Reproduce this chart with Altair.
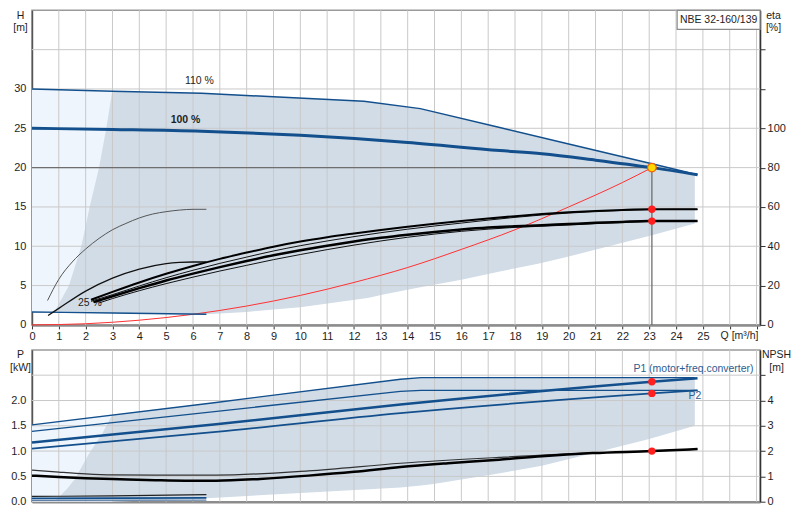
import altair as alt
import pandas as pd

MODEL = "NBE 32-160/139"

# ---------------- top panel: Q [m3/h] vs H [m] ----------------
q110 = [0, 3, 6.32, 9, 12.37, 14.47, 17.43, 20, 23.1, 24.8]
h110 = [30, 29.7, 29.45, 29.0, 28.45, 27.5, 25.1, 23.0, 20.5, 19.1]
q100 = [0, 3, 6.32, 10, 14, 17.43, 19, 21, 23.1, 24.8]
h100 = [25, 24.85, 24.63, 24.1, 23.2, 22.17, 21.76, 20.95, 20.0, 19.1]
q25 = [0, 3, 6.5]
h25 = [1.64, 1.52, 1.35]
qsys = [0, 2, 4, 6, 8, 10, 12, 14, 16, 18, 20, 22, 23.1]
hsys = [0, 0.15, 0.6, 1.35, 2.4, 3.75, 5.4, 7.3, 9.6, 12.1, 15.0, 18.1, 20.0]
duty_q = [23.1]
duty_h = [20.0]

light_q = [0, 3.0]
light_top = [30, 29.7]
light_bot = [1.64, 1.51]
range_q = [0.7, 0.89, 1.38, 1.84, 2.15, 2.5, 2.77, 2.99, 4, 6.32, 6.5, 8, 9, 10,
           12.37, 12.6, 13, 14.47, 16, 17.43, 18.9, 20, 23.1, 24.7]
range_top = [1.6, 2, 5, 10, 15, 20, 25, 29.7, 29.6, 29.45, 29.43, 29.2, 29.0, 28.85,
             28.45, 28.35, 28.15, 27.5, 26.26, 25.1, 23.9, 23.0, 20.5, 19.2]
range_bot = [1.6, 1.6, 1.58, 1.56, 1.54, 1.53, 1.52, 1.51, 1.46, 1.36, 1.35, 1.65, 1.95, 2.25,
             3.35, 3.5, 3.8, 4.8, 5.75, 6.8, 7.8, 8.7, 11.4, 12.9]

ann_q = [6.24, 2.16]
ann_h = [31.0, 2.75]
ann_txt = ["110 %", "25 %"]
ann_bold_q = [5.72]
ann_bold_h = [26.0]
ann_bold_txt = ["100 %"]

# efficiency curves (eta %)
e1_q = [0.58, 1.0, 1.5, 2, 2.5, 3, 3.5, 4, 4.5, 5, 5.5, 6, 6.5]
e1 = [12.4, 23.2, 32, 38.6, 44, 48.4, 51.6, 54.4, 56.4, 57.6, 58.4, 58.8, 58.8]
e2_q = [0.6, 1, 2, 3, 4, 5, 5.5, 6, 6.5]
e2 = [4.8, 8.4, 17.2, 23.8, 28.4, 31.2, 31.8, 32, 32]
b1_q = [2.2, 3, 4, 5, 6, 7, 8, 9, 10, 11, 12, 13, 14, 15, 16, 17, 18, 19, 20, 21, 22, 23, 24, 24.8]
b1 = [12.8, 16.8, 21.6, 26.0, 30.0, 33.6, 36.8, 39.8, 42.4, 44.6, 46.5, 48.3, 49.9, 51.4,
      52.8, 54.1, 55.3, 56.4, 57.3, 58.0, 58.5, 58.8, 58.8, 58.8]
b2_q = [2.2, 3, 4, 5, 6, 7, 8, 9, 10, 11, 12, 13, 14, 15, 16, 17, 18, 19, 20, 21, 22, 23, 24, 24.8]
b2 = [12.0, 15.4, 19.8, 24.0, 27.8, 31.3, 34.5, 37.6, 40.3, 42.7, 44.9, 46.9, 48.7, 50.3,
      51.8, 53.3, 54.7, 55.9, 56.9, 57.6, 58.2, 58.6, 58.8, 58.8]
b3_q = [2.3, 3, 4, 5, 6, 7, 8, 9, 10, 11, 12, 13, 14, 15, 16, 17, 18, 19, 20, 21, 22, 23, 24, 24.8]
b3 = [11.6, 14.6, 18.7, 22.6, 26.1, 29.4, 32.5, 35.4, 38.0, 40.3, 42.4, 44.3, 45.9, 47.3,
      48.5, 49.5, 50.2, 50.7, 51.3, 51.9, 52.4, 52.8, 52.8, 52.8]
b4_q = [2.5, 3, 4, 5, 6, 7, 8, 9, 10, 11, 12, 13, 14, 15, 16, 17, 18, 19, 20, 21, 22, 23, 24, 24.8]
b4 = [11.2, 13.4, 17.4, 21.0, 24.3, 27.4, 30.3, 33.2, 35.8, 38.3, 40.6, 42.7, 44.6, 46.2,
      47.6, 48.7, 49.6, 50.2, 50.8, 51.5, 52.1, 52.6, 52.8, 52.8]
eta_dot_q = [23.1, 23.1]
eta_dot = [58.8, 52.8]

# ---------------- bottom panel: P [kW] and NPSH [m] ----------------
p110a_q = [0, 6.86, 13.73, 14.5, 24.7]
p110a = [1.52, 1.96, 2.42, 2.45, 2.45]
p110b_q = [0, 13.73, 14.5, 24.8]
p110b = [1.39, 2.18, 2.2, 2.2]
p100a_q = [0, 6.86, 13.73, 23.1, 24.8]
p100a = [1.17, 1.53, 1.92, 2.37, 2.44]
p100b_q = [0, 6.86, 13.73, 23.1, 24.8]
p100b = [1.05, 1.38, 1.75, 2.14, 2.2]
p25a_q = [0, 6.5]
p25a = [0.065, 0.075]
p25b_q = [0, 6.5]
p25b = [0.025, 0.03]
p_dot_q = [23.1, 23.1]
p_dot = [2.37, 2.14]

plight_q = [0, 3.0]
plight_top = [1.52, 1.72]
plight_bot = [0, 0]
prange_q = [0.8, 1.0, 1.3, 1.6, 2.12, 2.62, 2.99, 4.6, 6.86, 10, 13.73,
            14.5, 14.96, 17.1, 19.0, 21.0, 23.0, 24.7]
prange_top = [0, 0.09, 0.25, 0.45, 0.94, 1.35, 1.72, 1.82, 1.96, 2.18, 2.42,
              2.45, 2.45, 2.45, 2.45, 2.45, 2.45, 2.45]
prange_bot = [0, 0, 0, 0, 0, 0, 0, 0.03, 0.08, 0.17, 0.28,
              0.32, 0.35, 0.53, 0.71, 0.97, 1.24, 1.5]

p_lab_q = [24.65, 24.7]
p_lab_p = [2.62, 2.09]
p_lab_txt = ["P1 (motor+freq.converter)", "P2"]

n1_q = [0, 1, 2, 3, 4.6, 6.86, 10.3, 13.73, 17.4, 20.9, 23.1, 24.8]
n1 = [1.25, 1.17, 1.1, 1.06, 1.05, 1.05, 1.22, 1.52, 1.75, 1.93, 2.0, 2.08]
n2_q = [0, 1, 2, 3, 4.6, 5.7, 6.86, 8.5, 10.3, 12, 13.73, 15.5, 17.4, 19, 20.9, 23.1, 24.8]
n2 = [1.03, 0.98, 0.93, 0.9, 0.85, 0.83, 0.83, 0.9, 1.03, 1.18, 1.37, 1.52, 1.66, 1.8, 1.92, 2.0, 2.08]
n25_q = [0, 3, 6.5]
n25 = [0.21, 0.23, 0.28]
n_dot_q = [23.1]
n_dot = [2.0]

q_grid = list(range(1, 28))
h_grid = [5, 10, 15, 20, 25, 30, 35]
p_grid = [0.5, 1.0, 1.5, 2.0, 2.5]

# ---------------- styling / layout ----------------
W, H1, H2 = 729, 315, 152
FONT = "Liberation Sans"
TXT = 10.5
BLUE = "#124f8c"
GRID = "#c9c9c9"
QS = alt.Scale(domain=[0, 27.13], nice=False, zero=False)


def x_top():
    return alt.X("q:Q", scale=QS, axis=alt.Axis(
        values=list(range(28)), labelExpr="datum.value <= 25 ? datum.label : ''",
        grid=False, ticks=True, tickSize=4, tickColor="#333", domainColor="#8c8c8c",
        domainWidth=2.5, labelPadding=2, labelFlush=False, labelOverlap=False,
        title="Q [m³/h]", titleX=689, titleY=14, titleAlign="left", titleBaseline="alphabetic"))


def x_bot():
    return alt.X("q:Q", scale=QS, axis=alt.Axis(
        values=list(range(28)), labels=False, ticks=False, grid=False,
        domainColor="#8c8c8c", domainWidth=2.5, title=None))


def y_h(field="v"):
    return alt.Y(f"{field}:Q", scale=alt.Scale(domain=[0, 40], nice=False), axis=alt.Axis(
        values=list(range(0, 31, 5)),
        grid=False, ticks=False, domainColor="#555", domainWidth=1.5, labelPadding=6,
        labelOverlap=False, title=["H", "[m]"], titleAngle=0, titleX=-12, titleY=0,
        titleAlign="center", titleBaseline="top"))


def y_eta(field="v"):
    return alt.Y(f"{field}:Q", scale=alt.Scale(domain=[0, 160], nice=False), axis=alt.Axis(
        orient="right", values=list(range(0, 141, 20)),
        labelExpr="datum.value <= 100 ? datum.label : ''", grid=False, ticks=True,
        tickSize=5, tickColor="#333", domainColor="#333", domainWidth=1.5, labelPadding=2,
        labelOverlap=False, title=["eta", "[%]"], titleAngle=0, titleX=13, titleY=0,
        titleAlign="center", titleBaseline="top"))


def y_p(field="v"):
    return alt.Y(f"{field}:Q", scale=alt.Scale(domain=[0, 3], nice=False), axis=alt.Axis(
        values=[0, 0.5, 1, 1.5, 2],
        labelExpr="format(datum.value, '.1f')",
        grid=False, ticks=False, domainColor="#555", domainWidth=1.5, labelPadding=6,
        labelOverlap=False, title=["P", "[kW]"], titleAngle=0, titleX=-12, titleY=0,
        titleAlign="center", titleBaseline="top"))


def y_n(field="v"):
    return alt.Y(f"{field}:Q", scale=alt.Scale(domain=[0, 6], nice=False), axis=alt.Axis(
        orient="right", values=[0, 1, 2, 3, 4, 5],
        labelExpr="datum.value <= 4 ? datum.label : ''", grid=False, ticks=True,
        tickSize=5, tickColor="#333", domainColor="#333", domainWidth=1.5, labelPadding=2,
        labelOverlap=False, title=["NPSH", "[m]"], titleAngle=0, titleX=16, titleY=0,
        titleAlign="center", titleBaseline="top"))


def curve(qs, vs, xf, yf, color, width, interp="monotone"):
    df = pd.DataFrame({"q": qs, "v": vs})
    return alt.Chart(df).mark_line(color=color, strokeWidth=width, interpolate=interp).encode(
        x=xf(), y=yf())


def band(qs, top, bot, xf, yf, color):
    df = pd.DataFrame({"q": qs, "v": top, "v2": bot})
    return alt.Chart(df).mark_area(color=color, opacity=1, interpolate="linear").encode(
        x=xf(), y=yf(), y2="v2:Q")


def vgrid(xf):
    return alt.Chart(pd.DataFrame({"q": q_grid})).mark_rule(color=GRID, strokeWidth=1).encode(x=xf())


def hgrid(vals, yf):
    return alt.Chart(pd.DataFrame({"v": vals})).mark_rule(color=GRID, strokeWidth=1).encode(y=yf())


def dots(qs, vs, xf, yf, color="#ff1f1f", size=55):
    return alt.Chart(pd.DataFrame({"q": qs, "v": vs})).mark_circle(
        size=size, color=color, opacity=1).encode(x=xf(), y=yf())


def labels(qs, vs, txt, xf, yf, color="#1e1e1e", weight="normal"):
    df = pd.DataFrame({"q": qs, "v": vs, "t": txt})
    return alt.Chart(df).mark_text(fontSize=TXT, color=color, fontWeight=weight,
                                   align="center", baseline="middle").encode(
        x=xf(), y=yf(), text="t:N")


# ---- top panel ----
duty_df = pd.DataFrame({"q": [0], "q2": duty_q, "v": duty_h})
duty_v_df = pd.DataFrame({"q": duty_q, "v": [0], "v2": duty_h})
top_h = alt.layer(
    band(light_q, light_top, light_bot, x_top, y_h, "#eef5fc"),
    band(range_q, range_top, range_bot, x_top, y_h, "#d1dce7"),
    vgrid(x_top),
    hgrid(h_grid, y_h),
    alt.Chart(duty_df).mark_rule(color="#6e6e6e", strokeWidth=1.3).encode(
        x=x_top(), x2="q2:Q", y=y_h()),
    alt.Chart(duty_v_df).mark_rule(color="#6e6e6e", strokeWidth=1.3).encode(
        x=x_top(), y=y_h(), y2="v2:Q"),
    curve(qsys, hsys, x_top, y_h, "#ff3030", 1),
    curve(q110, h110, x_top, y_h, BLUE, 1.5, "linear"),
    curve(q100, h100, x_top, y_h, BLUE, 3),
    curve(q25, h25, x_top, y_h, BLUE, 1.4),
    labels(ann_q, ann_h, ann_txt, x_top, y_h),
    labels(ann_bold_q, ann_bold_h, ann_bold_txt, x_top, y_h, weight="bold"),
    alt.Chart(pd.DataFrame({"q": duty_q, "v": duty_h})).mark_circle(
        size=75, fill="#ffd800", stroke="#f06000", strokeWidth=1.2, opacity=1).encode(
        x=x_top(), y=y_h()),
    alt.Chart(pd.DataFrame({"t": [MODEL]})).mark_rect(
        fill="white", stroke="#8a8a8a", strokeWidth=1.2).encode(
        x=alt.value(W - 83), x2=alt.value(W), y=alt.value(0), y2=alt.value(19)),
    alt.Chart(pd.DataFrame({"t": [MODEL]})).mark_text(
        fontSize=TXT, color="#1e1e1e", align="center", baseline="middle").encode(
        x=alt.value(W - 41.5), y=alt.value(10), text="t:N"),
)
top_eta = alt.layer(
    curve(e1_q, e1, x_top, y_eta, "#555555", 1),
    curve(e2_q, e2, x_top, y_eta, "#111111", 1.3),
    curve(b4_q, b4, x_top, y_eta, "#111111", 1),
    curve(b3_q, b3, x_top, y_eta, "#000000", 2.5),
    curve(b2_q, b2, x_top, y_eta, "#111111", 1),
    curve(b1_q, b1, x_top, y_eta, "#000000", 2),
    dots(eta_dot_q, eta_dot, x_top, y_eta),
)
top = alt.layer(top_h, top_eta).resolve_scale(y="independent").properties(width=W, height=H1)

# ---- bottom panel ----
bot_p = alt.layer(
    band(plight_q, plight_top, plight_bot, x_bot, y_p, "#eef5fc"),
    band(prange_q, prange_top, prange_bot, x_bot, y_p, "#d1dce7"),
    vgrid(x_bot),
    hgrid(p_grid, y_p),
    curve(p110a_q, p110a, x_bot, y_p, BLUE, 1.3, "linear"),
    curve(p110b_q, p110b, x_bot, y_p, BLUE, 1.3, "linear"),
    curve(p100b_q, p100b, x_bot, y_p, BLUE, 1.7),
    curve(p100a_q, p100a, x_bot, y_p, BLUE, 2.6),
    curve(p25a_q, p25a, x_bot, y_p, BLUE, 1.6, "linear"),
    curve(p25b_q, p25b, x_bot, y_p, "#5f7fa6", 1.3, "linear"),
    dots(p_dot_q, p_dot, x_bot, y_p),
    labels(p_lab_q, p_lab_p, p_lab_txt, x_bot, y_p, color="#2d5d91"),
)
bot_n = alt.layer(
    curve(n25_q, n25, x_bot, y_n, "#222222", 1.2),
    curve(n1_q, n1, x_bot, y_n, "#333333", 1.2),
    curve(n2_q, n2, x_bot, y_n, "#000000", 2.5),
    dots(n_dot_q, n_dot, x_bot, y_n),
)
bottom = alt.layer(bot_p, bot_n).resolve_scale(y="independent").properties(width=W, height=H2)

chart = alt.vconcat(top, bottom, spacing=25, bounds="flush").properties(
    padding=0
).configure_view(
    stroke="#9a9a9a", strokeWidth=1.5
).configure_axis(
    labelFont=FONT, labelFontSize=11, labelColor="#1e1e1e",
    titleFont=FONT, titleFontSize=TXT, titleColor="#1e1e1e", titleFontWeight="normal"
).configure_text(font=FONT)

chart.save("out.html", embed_options={"renderer": "svg", "actions": False})
